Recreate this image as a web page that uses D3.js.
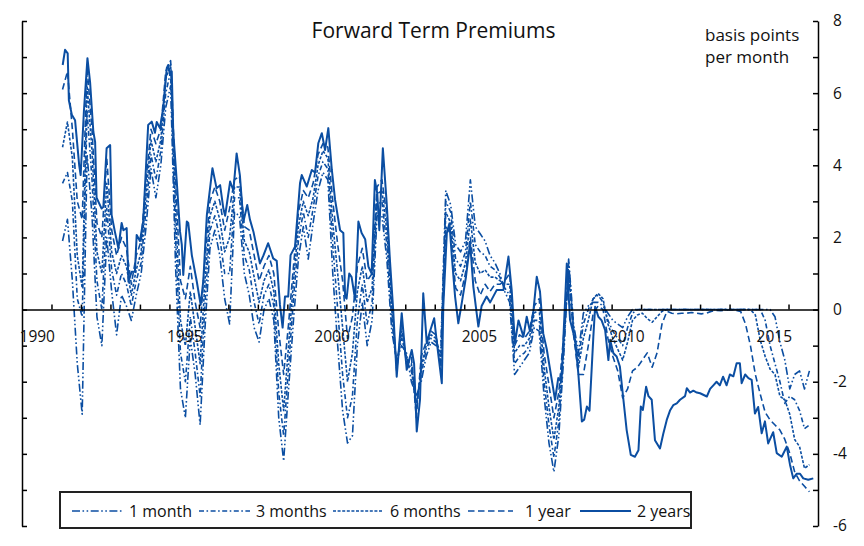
<!DOCTYPE html>
<html><head><meta charset="utf-8">
<script src="https://cdn.jsdelivr.net/npm/d3@7/dist/d3.min.js"></script>
<style>
body{margin:0;background:#fff;}
svg{display:block;font-family:"Open Sans",sans-serif;}
</style></head><body>
<svg id="c" width="864" height="546"></svg>
<script>
// ---------------- DATA ----------------
const seriesNames = ["1 month", "3 months", "6 months", "1 year", "2 years"];
// shorter maturities sampled every two months starting May 1991
const gridStart = 1991.375, gridStep = 1 / 6;

const oneMonth = [1.9,2.5,0.8,-1.5,-2.9,4.3,2.6,-0.2,-1.0,2.0,
0.5,-0.7,0.4,0.1,-0.3,0.4,1.0,2.3,3.9,3.1,
4.0,5.6,6.2,1.2,-2.2,-3.0,-0.8,-1.8,-3.2,-0.5,
1.7,2.2,1.5,0.3,-0.4,2.7,2.6,1.0,0.4,-0.5,
-0.9,0.0,0.3,-0.3,-3.0,-4.2,-2.2,-0.3,1.4,2.3,
1.4,2.4,3.3,3.8,3.6,1.0,-1.0,-2.8,-3.7,-3.5,
-1.0,0.2,-1.0,-0.3,2.6,2.6,1.4,-0.6,-1.4,-1.0,
-1.2,-2.0,-2.4,-2.0,-1.3,-0.9,-1.0,-1.0,3.3,2.9,
1.8,1.6,1.9,3.6,2.3,2.1,1.9,1.5,1.3,1.0,
0.5,0.2,-1.8,-1.6,-1.4,-1.2,-0.5,-0.6,-2.4,-3.7,
-4.5,-3.5,-1.3,1.4,-0.4,-1.2,-0.1,0.1,0.2,0.2,
0.1,-0.1,-0.3,-0.4,-0.5,-0.2,0,0,0,0,
0,0,0,0,0,0,0,0,0,0,
0,0,0,0,0,0,0,0,0,0,
0,0,0,0,0,-0.2,-0.9,-1.4,-2.2,-1.8,
-1.7,-2.2,-1.7];

const threeMonths = [3.5,3.8,3.0,0.3,-0.2,5.5,3.6,0.8,0.0,2.8,
1.1,0.4,1.0,0.7,0.1,0.8,1.3,2.8,4.3,3.6,
4.4,6.0,6.6,2.0,-1.2,-2.0,-0.2,-1.2,-2.4,0.2,
2.2,2.6,2.0,1.0,1.0,3.1,3.1,1.5,1.1,0.2,
-0.4,0.4,0.7,0.1,-2.3,-3.5,-1.6,0.3,1.9,2.7,
2.0,2.8,3.7,4.1,3.9,1.8,0.0,-1.8,-3.0,-2.4,
-0.3,0.7,-0.4,0.2,2.9,3.0,1.8,-0.3,-1.5,-0.8,
-1.3,-1.7,-2.6,-1.8,-1.1,-0.8,-0.9,-1.2,3.0,2.7,
1.4,1.2,1.6,3.0,1.8,1.6,1.5,1.2,1.1,0.9,
0.6,0.4,-1.5,-1.3,-1.2,-1.0,-0.3,-0.3,-2.0,-3.2,
-4.1,-3.1,-1.1,1.3,-0.5,-1.4,-0.4,0.0,0.3,0.4,
0.2,-0.3,-0.6,-0.8,-1.0,-0.5,-0.1,0,0,0,
0,0,0,0,0,0,0,0,0,0,
0,0,0,0,0,0,0,0,0,0,
0,0,0,-0.3,-1.0,-1.5,-2.0,-2.6,-2.4,-2.5,
-2.8,-3.3,-3.2];

const sixMonths = [4.5,5.2,4.2,1.5,0.6,6.2,4.4,1.6,1.0,3.5,
1.6,1.0,1.5,1.2,0.4,1.1,1.6,3.2,4.7,4.1,
4.7,6.4,6.8,2.8,-0.3,-1.0,0.5,-0.5,-1.5,0.8,
2.6,3.0,2.5,1.6,2.0,3.4,3.4,1.9,1.6,0.9,
0.2,0.8,1.1,0.5,-1.5,-2.8,-1.0,0.8,2.3,3.0,
2.6,3.1,4.0,4.4,4.2,2.4,1.0,-0.5,-2.0,-1.2,
0.5,1.2,0.2,0.6,3.2,3.3,2.2,0.0,-1.6,-0.6,
-1.4,-1.5,-2.8,-1.6,-1.0,-0.7,-0.8,-1.4,2.7,2.4,
1.0,0.8,1.3,2.5,1.3,1.0,1.1,0.9,0.9,0.8,
0.7,0.7,-1.2,-1.0,-1.0,-0.8,-0.1,0.0,-1.6,-2.7,
-3.6,-2.7,-0.9,1.1,-0.6,-1.6,-0.8,-0.3,0.3,0.45,
0.3,-0.4,-0.8,-1.1,-1.4,-0.9,-0.3,-0.15,-0.1,-0.25,
-0.35,-0.2,-0.05,0,0,0,0,0,0,0,
0,0,0,0,0,0,0,0,0,0,
0,-0.15,-0.85,-1.3,-1.65,-1.8,-2.4,-2.5,-2.9,-3.6,
-3.8,-4.4,-4.3];

const oneYear = [6.1,6.6,5.0,3.0,2.5,6.7,5.0,2.4,2.0,4.2,
2.2,1.5,2.0,1.7,0.7,1.5,1.9,3.6,5.0,4.6,
5.0,6.6,6.9,3.5,0.8,0.3,1.2,0.2,-0.5,1.4,
3.0,3.4,3.0,2.2,2.8,3.6,3.7,2.3,2.2,1.5,
0.8,1.2,1.5,1.0,-0.6,-1.8,-0.4,1.2,2.7,3.3,
3.1,3.5,4.3,4.6,4.5,3.0,1.8,0.8,-0.8,-0.2,
1.2,1.7,0.8,1.0,3.4,3.6,2.6,0.3,-1.7,-0.4,
-1.5,-1.3,-3.0,-1.3,-0.9,-0.6,-0.7,-1.6,2.3,2.1,
0.6,0.4,1.0,2.0,0.8,0.4,0.7,0.5,0.7,0.7,
0.8,1.0,-1.0,-0.7,-0.8,-0.6,0.1,0.3,-1.2,-2.1,
-3.0,-2.3,-0.7,0.9,-0.7,-1.8,-1.8,-1.0,-0.1,0.1,
0.0,-0.8,-1.3,-1.7,-2.45,-2.2,-1.7,-1.6,-1.4,-1.2,
-1.6,-1.2,-0.4,-0.05,-0.1,-0.12,-0.1,-0.1,-0.08,-0.1,
-0.12,-0.1,-0.05,-0.02,-0.03,-0.02,0.0,-0.02,-0.05,-0.4,
-1.0,-1.8,-2.35,-2.85,-3.06,-3.2,-3.34,-3.6,-3.98,-4.5,
-4.75,-4.9,-5.05];

// 2-year series: [decimal year, basis points per month]
const twoYears = [[1991.38,6.78],[1991.46,7.2],[1991.55,7.1],[1991.59,5.8],[1991.69,5.4],[1991.80,5.25],[1991.94,4.0],[1991.99,3.73],[1992.10,5.5],[1992.22,6.97],[1992.31,6.3],[1992.42,4.93],[1992.48,4.65],[1992.53,3.1],[1992.70,2.8],[1992.76,2.85],[1992.87,4.47],[1992.99,4.56],[1993.04,2.62],[1993.15,2.16],[1993.27,1.7],[1993.38,2.4],[1993.44,2.2],[1993.55,2.26],[1993.61,0.77],[1993.72,1.05],[1993.83,1.05],[1993.89,2.07],[1994.00,1.9],[1994.11,2.44],[1994.28,5.12],[1994.40,5.21],[1994.51,4.9],[1994.57,5.2],[1994.68,5.03],[1994.79,5.59],[1994.91,6.69],[1994.96,6.78],[1995.02,6.5],[1995.08,6.6],[1995.13,4.93],[1995.25,3.55],[1995.36,2.16],[1995.42,1.8],[1995.47,0.96],[1995.59,2.44],[1995.64,2.4],[1995.76,1.51],[1995.93,0.77],[1996.06,0.13],[1996.15,0.8],[1996.27,2.62],[1996.46,3.92],[1996.60,3.36],[1996.72,3.45],[1996.83,2.8],[1996.89,2.6],[1997.06,3.55],[1997.17,3.3],[1997.28,4.33],[1997.39,3.73],[1997.51,2.44],[1997.64,2.9],[1997.73,2.5],[1997.85,2.16],[1998.07,1.28],[1998.19,1.5],[1998.35,1.84],[1998.52,1.42],[1998.64,1.35],[1998.75,0.13],[1998.84,-0.5],[1998.92,0.36],[1999.03,0.36],[1999.11,1.51],[1999.26,1.74],[1999.43,3.5],[1999.49,3.73],[1999.66,3.41],[1999.83,3.87],[1999.94,3.8],[2000.05,4.61],[2000.17,4.89],[2000.28,4.42],[2000.39,5.03],[2000.51,3.87],[2000.62,3.04],[2000.79,2.2],[2000.90,2.12],[2000.96,0.36],[2001.01,0.3],[2001.10,1.0],[2001.18,0.9],[2001.30,0.27],[2001.41,2.44],[2001.52,2.12],[2001.64,1.95],[2001.75,1.19],[2001.86,1.0],[2001.97,3.59],[2002.05,3.22],[2002.12,2.2],[2002.24,4.47],[2002.37,2.95],[2002.48,1.37],[2002.59,0],[2002.71,-1.86],[2002.88,-0.1],[2003.05,-1.67],[2003.22,-1.12],[2003.30,-1.5],[2003.39,-3.38],[2003.50,-2.5],[2003.61,0.45],[2003.73,-0.93],[2003.84,-0.6],[2003.98,-0.24],[2004.07,-0.9],[2004.24,-2.04],[2004.29,0.08],[2004.41,2.12],[2004.50,2.39],[2004.58,1.47],[2004.69,0.36],[2004.80,-0.38],[2004.92,0.2],[2005.06,0.91],[2005.20,1.84],[2005.31,0.63],[2005.48,-0.47],[2005.59,0.1],[2005.76,0.36],[2005.88,0.2],[2006.10,0.54],[2006.33,0.54],[2006.50,1.47],[2006.61,0.54],[2006.72,-0.93],[2006.84,-0.3],[2007.01,-0.75],[2007.12,-0.2],[2007.23,-0.6],[2007.34,-0.1],[2007.46,0.91],[2007.57,0.5],[2007.68,-0.66],[2007.80,-1.1],[2007.97,-1.95],[2008.08,-2.5],[2008.19,-1.9],[2008.30,-2.0],[2008.38,-0.5],[2008.48,1.28],[2008.59,-0.29],[2008.76,-0.84],[2008.87,-1.77],[2008.99,-3.1],[2009.07,-3.05],[2009.16,-2.69],[2009.25,-2.8],[2009.38,-0.75],[2009.44,0.08],[2009.55,-0.2],[2009.66,-0.3],[2009.78,-0.57],[2009.89,-1.4],[2009.95,-0.84],[2010.06,-1.21],[2010.17,-1.3],[2010.28,-1.58],[2010.40,-2.5],[2010.51,-3.34],[2010.65,-4.03],[2010.79,-4.08],[2010.91,-3.9],[2010.99,-2.69],[2011.06,-2.78],[2011.17,-2.14],[2011.25,-2.4],[2011.36,-2.5],[2011.47,-3.62],[2011.64,-3.85],[2011.75,-3.45],[2011.87,-3.06],[2011.98,-2.8],[2012.09,-2.65],[2012.21,-2.6],[2012.32,-2.5],[2012.49,-2.4],[2012.55,-2.18],[2012.66,-2.3],[2012.77,-2.25],[2012.89,-2.3],[2013.00,-2.32],[2013.23,-2.41],[2013.34,-2.2],[2013.45,-2.1],[2013.56,-2.0],[2013.67,-2.1],[2013.78,-1.86],[2013.90,-2.1],[2014.01,-1.8],[2014.13,-1.85],[2014.24,-1.49],[2014.35,-1.49],[2014.41,-2.04],[2014.53,-1.8],[2014.64,-1.9],[2014.75,-1.95],[2014.86,-2.88],[2014.97,-2.7],[2015.09,-3.43],[2015.20,-3.1],[2015.31,-3.71],[2015.48,-3.4],[2015.60,-3.98],[2015.77,-4.08],[2015.94,-3.8],[2016.05,-4.3],[2016.16,-4.68],[2016.28,-4.55],[2016.39,-4.55],[2016.50,-4.68],[2016.67,-4.72],[2016.84,-4.68]];

const yTickValues = [-6,-5,-4,-3,-2,-1,0,1,2,3,4,5,6,7,8];
const yLabelValues = [-6,-4,-2,0,2,4,6,8];
const xTickYears = [1991,1992,1993,1994,1995,1996,1997,1998,1999,2000,2001,2002,2003,2004,2005,2006,2007,2008,2009,2010,2011,2012,2013,2014,2015,2016];
const xLabelYears = [1990,1995,2000,2005,2010,2015];
const titleText = "Forward Term Premiums";
const unitLines = ["basis points", "per month"];

// ---------------- CHART ----------------
const svg = d3.select("#c");
const color = "#0b4ea2";
const x = d3.scaleLinear().domain([1990, 2017]).range([22, 818]);
const y = d3.scaleLinear().domain([-6, 8]).range([526, 21]);

const gridSeries = [oneMonth, threeMonths, sixMonths, oneYear].map(arr =>
  arr.map((v, i) => [gridStart + i * gridStep, v]));
const allSeries = [...gridSeries, twoYears];
const dashes = ["8,2.5,1.6,2.5,1.6,2.5", "5,2.5,1.6,2.5", "3,1.6", "6.5,3.5", null];
const widths = [1.6, 1.6, 1.6, 1.6, 2];

const line = d3.line().x(d => x(d[0])).y(d => y(d[1]));
const gLines = svg.append("g");
allSeries.forEach((s, k) => {
  gLines.append("path").datum(s).attr("d", line)
    .attr("fill", "none").attr("stroke", color)
    .attr("stroke-width", widths[k])
    .attr("stroke-linejoin", "round")
    .attr("stroke-dasharray", dashes[k]);
});

// axes
const axisStyle = g => {
  g.selectAll("path,line").attr("stroke", "#000").attr("stroke-width", 1.5);
  g.selectAll("text").attr("fill", "#111").style("font-family", '"Open Sans",sans-serif');
};
// left axis (ticks only)
svg.append("g").attr("transform", "translate(22,0)")
  .call(d3.axisRight(y).tickValues(yTickValues).tickSizeInner(5).tickSizeOuter(0).tickFormat(""))
  .call(axisStyle);
// right axis with labels
svg.append("g").attr("transform", "translate(818,0)")
  .call(d3.axisRight(y).tickValues(yTickValues).tickSizeInner(-5).tickSizeOuter(0).tickPadding(15)
    .tickFormat(d => yLabelValues.includes(d) ? String(d) : ""))
  .call(axisStyle)
  .call(g => g.selectAll("text").style("font-size", "15.5px"));
// x axis at zero
svg.append("g").attr("transform", `translate(0,${y(0)})`)
  .call(d3.axisTop(x).tickValues(xTickYears).tickSizeInner(5).tickSizeOuter(0).tickFormat(""))
  .call(axisStyle);
svg.append("g").attr("transform", `translate(0,${y(0)})`)
  .call(d3.axisBottom(x).tickValues(xLabelYears.map(d => d + 0.5)).tickSize(0).tickPadding(21)
    .tickFormat(d => String(Math.floor(d))))
  .call(axisStyle)
  .call(g => g.select(".domain").remove())
  .call(g => g.selectAll("text").style("font-size", "15.5px"));

// title and units
svg.append("text").attr("x", 433.5).attr("y", 37.5).attr("text-anchor", "middle")
  .style("font-size", "21px").attr("fill", "#111").text(titleText);
unitLines.forEach((t, i) => {
  svg.append("text").attr("x", 705).attr("y", 41 + i * 22)
    .style("font-size", "17px").attr("fill", "#111").text(t);
});

// legend
const legend = svg.append("g");
legend.append("rect").attr("x", 60).attr("y", 492).attr("width", 631).attr("height", 36)
  .attr("fill", "#fff").attr("stroke", "#222").attr("stroke-width", 2);
const legX = [[72, 122, 129], [199, 250, 256], [333, 383, 390], [468, 513, 525], [580, 631, 637]];
seriesNames.forEach((n, k) => {
  legend.append("line").attr("x1", legX[k][0]).attr("x2", legX[k][1]).attr("y1", 511).attr("y2", 511)
    .attr("stroke", color).attr("stroke-width", widths[k]).attr("stroke-dasharray", dashes[k]);
  legend.append("text").attr("x", legX[k][2]).attr("y", 516.5)
    .style("font-size", "16px").attr("fill", "#111").text(n);
});
</script>
</body></html>
